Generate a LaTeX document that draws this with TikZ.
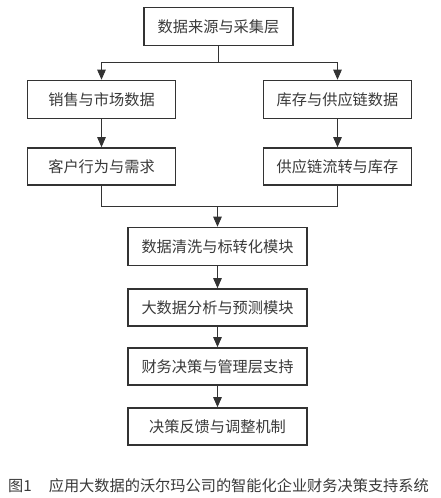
\documentclass[tikz,border=0pt]{standalone}
\usepackage{fontspec}
\setmainfont{Noto Sans CJK SC}
\usetikzlibrary{arrows.meta}
\definecolor{ln}{HTML}{333333}
\definecolor{tx}{HTML}{3A3A3A}
\begin{document}
\begin{tikzpicture}[x=1pt,y=-1pt,
  box/.style={draw=ln,line width=1.6pt,fill=white,text=tx,font=\fontsize{15.2}{17}\selectfont,inner sep=0pt,minimum height=38pt},
  sbox/.style={box,minimum width=148pt},
  wbox/.style={box,minimum width=179pt},
  conn/.style={draw=ln,line width=0.9pt},
  arr/.style={conn,-{Triangle[length=10pt,width=8.5pt]}}]
\useasboundingbox[fill=white] (0,0) rectangle (440,498);
\node[box,minimum width=149pt] (top) at (218.5,26.5) {数据来源与采集层};
\node[sbox] (l1) at (101.5,99.5) {销售与市场数据};
\node[sbox] (r1) at (337.5,99.5) {库存与供应链数据};
\node[sbox,minimum height=37pt] (l2) at (101.5,166.5) {客户行为与需求};
\node[sbox,minimum height=37pt] (r2) at (337.5,166.5) {供应链流转与库存};
\node[wbox] (b3) at (217.5,246.5) {数据清洗与标转化模块};
\node[wbox,minimum height=37pt] (b4) at (217.5,307.5) {大数据分析与预测模块};
\node[wbox,minimum height=37pt] (b5) at (217.5,366.5) {财务决策与管理层支持};
\node[wbox,minimum height=37pt] (b6) at (217.5,426.5) {决策反馈与调整机制};
\node[text=tx,font=\fontsize{15.2}{17}\selectfont,anchor=west,inner sep=0pt] (cap) at (8,486) {图1\hspace{17pt}应用大数据的沃尔玛公司的智能化企业财务决策支持系统};
\coordinate (bus1) at (218.5,62);
\coordinate (bus2) at (217.5,206);
\draw[conn] (top.south) -- (bus1);
\draw[arr] (bus1) -| (l1.north);
\draw[arr] (bus1) -| (r1.north);
\draw[arr] (l1.south) -- (l2.north);
\draw[arr] (r1.south) -- (r2.north);
\draw[conn] (l2.south) |- (bus2);
\draw[conn] (r2.south) |- (bus2);
\draw[arr] (bus2) -- (b3.north);
\draw[arr] (b3.south) -- (b4.north);
\draw[arr] (b4.south) -- (b5.north);
\draw[arr] (b5.south) -- (b6.north);
\end{tikzpicture}
\end{document}
